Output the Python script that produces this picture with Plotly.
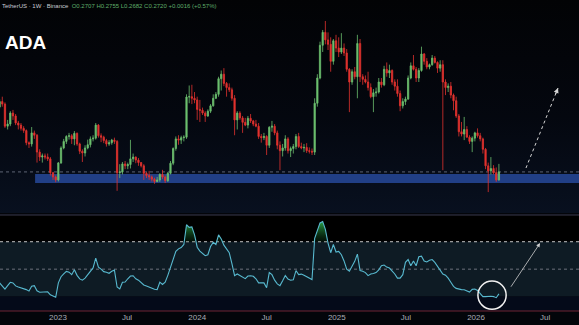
import math
import base64
import pandas as pd
import plotly.graph_objects as go

# ---------------- data (weekly ADA/USDT) ----------------
START_WEEK = "2022-08-01"
FIRST_OPEN = 0.538

close = [
    0.570, 0.555, 0.440, 0.450, 0.505, 0.490, 0.455, 0.445, 0.430, 0.420,
    0.370, 0.365, 0.410, 0.400, 0.335, 0.318, 0.322, 0.318, 0.312, 0.270,
    0.258, 0.250, 0.299, 0.350, 0.375, 0.395, 0.398, 0.385, 0.408, 0.365,
    0.338, 0.332, 0.350, 0.362, 0.385, 0.388, 0.445, 0.398, 0.392, 0.378,
    0.365, 0.370, 0.380, 0.375, 0.270, 0.272, 0.296, 0.290, 0.294, 0.312,
    0.318, 0.308, 0.300, 0.290, 0.268, 0.262, 0.258, 0.252, 0.246, 0.250,
    0.265, 0.258, 0.248, 0.268, 0.298, 0.348, 0.385, 0.380, 0.390, 0.392,
    0.598, 0.600, 0.590, 0.580, 0.525, 0.520, 0.505, 0.490, 0.515, 0.545,
    0.590, 0.615, 0.725, 0.760, 0.690, 0.660, 0.645, 0.590, 0.470, 0.505,
    0.480, 0.458, 0.445, 0.478, 0.465, 0.450, 0.440, 0.395, 0.390, 0.395,
    0.360, 0.435, 0.440, 0.410, 0.360, 0.340, 0.350, 0.385, 0.340, 0.348,
    0.355, 0.395, 0.355, 0.350, 0.352, 0.340, 0.338, 0.335, 0.560, 0.730,
    1.030, 1.180, 1.090, 1.040, 0.870, 1.080, 1.000, 0.960, 1.000, 0.950,
    0.800, 0.700, 0.780, 0.740, 1.050, 0.740, 0.720, 0.700, 0.660, 0.600,
    0.625, 0.630, 0.700, 0.680, 0.800, 0.770, 0.790, 0.700, 0.670, 0.620,
    0.545, 0.570, 0.585, 0.730, 0.830, 0.800, 0.730, 0.790, 0.940, 0.870,
    0.820, 0.840, 0.900, 0.860, 0.810, 0.840, 0.700, 0.660, 0.670, 0.610,
    0.575, 0.490, 0.415, 0.405, 0.425, 0.392, 0.375, 0.388, 0.410, 0.398,
    0.385, 0.345, 0.290, 0.275, 0.282, 0.270, 0.250, 0.272,
]
high = [
    0.585, 0.600, 0.565, 0.470, 0.515, 0.522, 0.500, 0.465, 0.455, 0.440,
    0.425, 0.375, 0.436, 0.420, 0.405, 0.345, 0.330, 0.330, 0.330, 0.318,
    0.272, 0.262, 0.302, 0.356, 0.385, 0.400, 0.410, 0.405, 0.418, 0.412,
    0.370, 0.345, 0.360, 0.382, 0.395, 0.400, 0.455, 0.450, 0.408, 0.398,
    0.385, 0.380, 0.385, 0.390, 0.380, 0.295, 0.302, 0.305, 0.300, 0.381,
    0.330, 0.320, 0.315, 0.302, 0.295, 0.272, 0.275, 0.262, 0.256, 0.258,
    0.268, 0.278, 0.262, 0.272, 0.305, 0.352, 0.395, 0.400, 0.398, 0.400,
    0.615, 0.675, 0.680, 0.630, 0.600, 0.580, 0.535, 0.515, 0.525, 0.555,
    0.615, 0.630, 0.740, 0.790, 0.810, 0.700, 0.690, 0.660, 0.610, 0.515,
    0.515, 0.490, 0.480, 0.490, 0.500, 0.470, 0.470, 0.455, 0.405, 0.410,
    0.400, 0.440, 0.465, 0.450, 0.420, 0.375, 0.365, 0.400, 0.392, 0.355,
    0.365, 0.405, 0.410, 0.370, 0.365, 0.368, 0.352, 0.348, 0.590, 0.760,
    1.070, 1.210, 1.330, 1.180, 1.120, 1.100, 1.150, 1.120, 1.170, 1.050,
    0.990, 0.810, 0.800, 0.820, 1.150, 1.100, 0.760, 0.750, 0.780, 0.690,
    0.650, 0.660, 0.730, 0.730, 0.830, 0.860, 0.840, 0.800, 0.720, 0.720,
    0.640, 0.590, 0.600, 0.750, 0.860, 0.930, 0.820, 0.810, 1.015, 0.950,
    0.900, 0.850, 0.930, 0.920, 0.870, 0.880, 0.880, 0.720, 0.690, 0.700,
    0.620, 0.600, 0.500, 0.460, 0.485, 0.440, 0.400, 0.395, 0.415, 0.430,
    0.410, 0.390, 0.350, 0.300, 0.318, 0.292, 0.285, 0.296,
]
low = [
    0.530, 0.540, 0.432, 0.425, 0.440, 0.470, 0.445, 0.425, 0.420, 0.410,
    0.360, 0.350, 0.355, 0.385, 0.300, 0.305, 0.300, 0.310, 0.305, 0.262,
    0.250, 0.244, 0.246, 0.296, 0.345, 0.365, 0.382, 0.365, 0.360, 0.358,
    0.328, 0.302, 0.320, 0.345, 0.352, 0.375, 0.382, 0.390, 0.372, 0.368,
    0.355, 0.358, 0.362, 0.365, 0.223, 0.255, 0.265, 0.280, 0.280, 0.282,
    0.302, 0.298, 0.290, 0.285, 0.250, 0.255, 0.250, 0.246, 0.240, 0.244,
    0.245, 0.252, 0.242, 0.245, 0.265, 0.292, 0.340, 0.362, 0.365, 0.375,
    0.385, 0.560, 0.555, 0.560, 0.470, 0.460, 0.495, 0.460, 0.485, 0.505,
    0.540, 0.585, 0.600, 0.640, 0.670, 0.600, 0.630, 0.575, 0.400, 0.425,
    0.470, 0.410, 0.440, 0.430, 0.455, 0.440, 0.435, 0.385, 0.370, 0.380,
    0.325, 0.350, 0.415, 0.400, 0.345, 0.277, 0.320, 0.340, 0.330, 0.318,
    0.330, 0.345, 0.350, 0.345, 0.335, 0.332, 0.330, 0.325, 0.325, 0.540,
    0.720, 0.960, 1.040, 0.980, 0.780, 0.840, 0.960, 0.910, 0.940, 0.920,
    0.780, 0.510, 0.680, 0.720, 0.590, 0.700, 0.680, 0.690, 0.640, 0.590,
    0.510, 0.600, 0.620, 0.660, 0.670, 0.740, 0.730, 0.680, 0.640, 0.600,
    0.515, 0.530, 0.550, 0.580, 0.720, 0.790, 0.700, 0.700, 0.780, 0.840,
    0.800, 0.800, 0.830, 0.850, 0.770, 0.780, 0.277, 0.610, 0.630, 0.590,
    0.520, 0.480, 0.395, 0.395, 0.380, 0.390, 0.365, 0.335, 0.375, 0.390,
    0.375, 0.330, 0.280, 0.220, 0.265, 0.265, 0.245, 0.248,
]
rsi = [
    40.0, 37.5, 35.5, 38.0, 40.4, 40.0, 37.8, 37.0, 36.5, 36.0,
    35.1, 34.0, 37.5, 38.0, 34.2, 33.2, 33.4, 33.6, 33.5, 31.3,
    30.2, 29.5, 40.0, 44.5, 46.5, 48.4, 47.8, 46.0, 49.6, 45.5,
    42.9, 42.0, 43.5, 46.0, 48.0, 50.9, 58.1, 51.5, 50.0, 48.2,
    47.8, 47.0, 48.5, 49.3, 37.0, 35.6, 40.5, 40.6, 43.0, 45.0,
    45.2, 43.0, 42.0, 40.5, 38.5, 37.7, 36.8, 36.0, 35.4, 35.1,
    40.5, 38.8, 40.5, 45.5, 51.0, 56.9, 63.0, 64.8, 65.8, 68.0,
    82.4, 80.5, 80.8, 75.0, 66.0, 63.2, 61.5, 59.8, 60.5, 66.5,
    69.5, 68.0, 75.0, 72.0, 67.5, 65.0, 62.0, 54.0, 45.3, 46.5,
    45.3, 44.5, 43.1, 45.0, 45.2, 44.8, 43.0, 40.0, 39.8, 40.0,
    36.5, 47.5, 46.0, 42.0, 39.3, 38.0, 41.5, 45.3, 42.8, 41.9,
    42.2, 49.0, 46.0, 46.4, 45.5, 44.5, 43.0, 42.4, 72.5, 79.0,
    83.7, 84.8, 79.0, 69.0, 62.0, 68.0, 62.5, 63.0, 60.5, 56.0,
    50.0, 48.5, 52.5, 55.7, 61.0, 49.0, 48.5, 47.5, 45.3, 46.5,
    46.8, 47.5, 49.5, 52.5, 53.0, 51.5, 50.8, 49.0, 46.5, 43.5,
    43.5, 46.0, 55.0, 57.0, 52.5, 56.0, 52.5, 59.0, 59.5, 56.0,
    55.3, 56.5, 57.0, 55.0, 52.0, 48.5, 46.5, 45.6, 43.5, 40.5,
    37.5, 36.0, 35.3, 35.1, 35.0, 34.2, 33.3, 35.3, 35.5, 34.5,
    32.5, 30.0, 30.0, 30.2, 30.2, 30.0, 29.2, 32.0,
]

TICK_VALS = ["2023-01-01", "2023-07-01", "2024-01-01", "2024-07-01",
             "2025-01-01", "2025-07-01", "2026-01-01", "2026-07-01"]
TICK_TEXT = ["2023", "Jul", "2024", "Jul", "2025", "Jul", "2026", "Jul"]

RSI_OB, RSI_MID, RSI_OS = 70, 50, 30
ZONE_LOW, ZONE_HIGH, ZONE_START = 0.242, 0.266, "2022-11-02"
LAST_PRICE = 0.2720
HEADER_NAME = "TetherUS · 1W · Binance"
HEADER_VALUES = "O0.2707 H0.2755 L0.2682 C0.2720 +0.0016 (+0.57%)"
TITLE = "ADA"

# annotation drawing positions (data coordinates)
X_RANGE = ["2022-08-02", "2026-09-28"]
PRICE_RANGE = [0.1766, 1.658]
RSI_RANGE = [19.5, 89.5]
ARROW1 = (("2026-05-12", 0.2834), ("2026-08-04", 0.657))
ARROW2 = (("2026-03-31", 36.1), ("2026-06-18", 69.0))
CIRCLE = (("2026-01-06", 20.8), ("2026-03-21", 41.3))

# ---------------- styling ----------------
GREEN = "#6cbf6e"
RED = "#e2322e"
RSI_COLOR = "#58b9cf"
BG = "#03050a"

dates = pd.date_range(START_WEEK, periods=len(close), freq="7D")
opens = [FIRST_OPEN] + close[:-1]
lg = math.log10

fig = go.Figure()
fig.add_trace(go.Candlestick(
    x=dates, open=opens, high=high, low=low, close=close,
    increasing=dict(line=dict(color=GREEN, width=0.8), fillcolor=GREEN),
    decreasing=dict(line=dict(color=RED, width=0.8), fillcolor=RED),
    whiskerwidth=0, hoverinfo="skip", showlegend=False, xaxis="x", yaxis="y"))

fig.add_trace(go.Scatter(x=dates, y=[RSI_OB] * len(rsi), mode="lines",
                         line=dict(width=0, color="rgba(0,0,0,0)"),
                         hoverinfo="skip", showlegend=False, xaxis="x2", yaxis="y2"))
fig.add_trace(go.Scatter(x=dates, y=[max(v, RSI_OB) for v in rsi], mode="lines",
                         line=dict(width=0, color="rgba(0,0,0,0)"), fill="tonexty",
                         fillgradient=dict(type="vertical",
                                           colorscale=[[0, "rgba(10,60,25,0.25)"],
                                                       [1, "rgba(45,175,75,0.95)"]]),
                         hoverinfo="skip", showlegend=False, xaxis="x2", yaxis="y2"))
fig.add_trace(go.Scatter(x=dates, y=rsi, mode="lines",
                         line=dict(width=1.1, color=RSI_COLOR),
                         hoverinfo="skip", showlegend=False, xaxis="x2", yaxis="y2"))

TOP_DOM = [0.3151, 1.0]
BOT_DOM = [0.0, 0.3087]

shapes = []
# RSI background bands
shapes.append(dict(type="rect", xref="x2 domain", yref="y2", x0=0, x1=1,
                   y0=RSI_OB, y1=RSI_RANGE[1], fillcolor="#000000", line=dict(width=0), layer="below"))
shapes.append(dict(type="rect", xref="x2 domain", yref="y2", x0=0, x1=1,
                   y0=RSI_OS, y1=RSI_OB, fillcolor="#0e1b24", line=dict(width=0), layer="below"))
shapes.append(dict(type="rect", xref="x2 domain", yref="y2", x0=0, x1=1,
                   y0=RSI_RANGE[0], y1=RSI_OS, fillcolor="#040a19", line=dict(width=0), layer="below"))
shapes.append(dict(type="line", xref="x2 domain", yref="y2", x0=0, x1=1, y0=RSI_OB, y1=RSI_OB,
                   line=dict(color="#c4c4c4", width=1, dash="3px,3px"), layer="below"))
shapes.append(dict(type="line", xref="x2 domain", yref="y2", x0=0, x1=1, y0=RSI_MID, y1=RSI_MID,
                   line=dict(color="#6c717c", width=1, dash="3px,3px"), layer="below"))
# pane borders
shapes.append(dict(type="line", xref="paper", yref="y2 domain", x0=0, x1=1, y0=1, y1=1,
                   line=dict(color="#3a3a4e", width=1)))
shapes.append(dict(type="line", xref="paper", yref="y2 domain", x0=0, x1=1, y0=0, y1=0,
                   line=dict(color="#6e2533", width=1)))
# support zone and last price line (shape positions given as data values)
shapes.append(dict(type="rect", xref="x", yref="y", x0=ZONE_START, x1=X_RANGE[1],
                   y0=ZONE_LOW, y1=ZONE_HIGH, fillcolor="#213f86",
                   line=dict(width=0), layer="below"))
shapes.append(dict(type="line", xref="x domain", yref="y", x0=0, x1=1,
                   y0=LAST_PRICE, y1=LAST_PRICE,
                   line=dict(color="#5d6575", width=1, dash="dot"), layer="below"))
# projection arrow (dotted) in price pane
(a1x0, a1y0), (a1x1, a1y1) = ARROW1
shapes.append(dict(type="line", xref="x", yref="y", x0=a1x0, x1=a1x1,
                   y0=a1y0, y1=a1y1, line=dict(color="#d6d6d6", width=1, dash="dot")))
# circle in RSI pane
(cx0, cy0), (cx1, cy1) = CIRCLE
shapes.append(dict(type="circle", xref="x2", yref="y2", x0=cx0, x1=cx1, y0=cy0, y1=cy1,
                   line=dict(color="#f2f2f2", width=1.5)))

annotations = [
    dict(xref="x", yref="y", x=a1x1, y=lg(a1y1), ax=-3, ay=7.5, showarrow=True,
         arrowhead=2, arrowsize=1, arrowwidth=1, arrowcolor="#d6d6d6", text=""),
    dict(xref="x2", yref="y2", x=ARROW2[1][0], y=ARROW2[1][1],
         axref="x2", ayref="y2", ax=ARROW2[0][0], ay=ARROW2[0][1], showarrow=True,
         arrowhead=2, arrowsize=1, arrowwidth=0.8, arrowcolor="#cfcfcf", text=""),
    dict(xref="paper", yref="paper", x=0.006, y=0.8633, xanchor="left", yanchor="middle",
         showarrow=False, text="<b>" + TITLE + "</b>",
         font=dict(family="Liberation Sans, Arial, sans-serif", size=19, color="#ffffff")),
    dict(xref="paper", yref="paper", x=0.0, y=1.0, xanchor="left", yanchor="top", yshift=-1,
         showarrow=False,
         text=HEADER_NAME + "  <span style='color:#5fae6a'>" + HEADER_VALUES + "</span>",
         font=dict(family="Liberation Sans, Arial, sans-serif", size=6, color="#c9ccd3")),
]

svg = ("<svg xmlns='http://www.w3.org/2000/svg' width='10' height='100' preserveAspectRatio='none'>"
       "<defs><linearGradient id='g' x1='0' y1='0' x2='0' y2='1'>"
       "<stop offset='0' stop-color='#020305'/><stop offset='0.55' stop-color='#04070f'/>"
       "<stop offset='1' stop-color='#08101f'/></linearGradient></defs>"
       "<rect width='10' height='100' fill='url(#g)'/></svg>")
bg_src = "data:image/svg+xml;base64," + base64.b64encode(svg.encode()).decode()

fig.update_layout(
    width=579, height=325,
    margin=dict(l=0, r=0, t=0, b=14),
    paper_bgcolor=BG, plot_bgcolor=BG,
    showlegend=False,
    hovermode=False,
    shapes=shapes, annotations=annotations,
    images=[dict(source=bg_src, xref="paper", yref="paper", x=0, y=1, sizex=1,
                 sizey=TOP_DOM[1] - TOP_DOM[0], xanchor="left", yanchor="top",
                 sizing="stretch", layer="below")],
    xaxis=dict(domain=[0, 1], anchor="y", type="date", range=X_RANGE,
               showticklabels=False, showgrid=False, zeroline=False,
               rangeslider=dict(visible=False), showline=False),
    yaxis=dict(domain=TOP_DOM, anchor="x", type="log",
               range=[lg(PRICE_RANGE[0]), lg(PRICE_RANGE[1])],
               showticklabels=False, showgrid=False, zeroline=False, showline=False),
    xaxis2=dict(domain=[0, 1], anchor="y2", type="date", range=X_RANGE, matches="x",
                tickmode="array", tickvals=TICK_VALS, ticktext=TICK_TEXT,
                tickfont=dict(family="Liberation Sans, Arial, sans-serif", size=8, color="#a9acb5"),
                showgrid=False, zeroline=False, ticks="", showline=False),
    yaxis2=dict(domain=BOT_DOM, anchor="x2", range=RSI_RANGE,
                showticklabels=False, showgrid=False, zeroline=False, showline=False),
)

fig.write_html("out.html", config={"displayModeBar": False})
